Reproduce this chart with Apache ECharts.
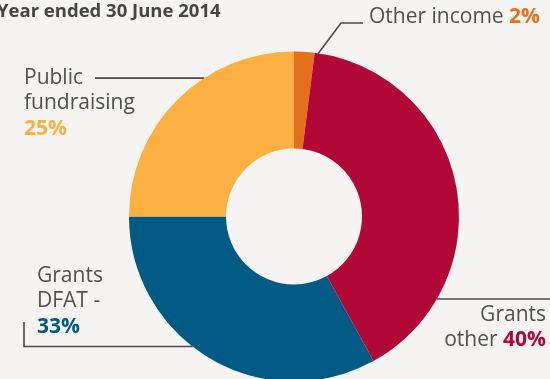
<!DOCTYPE html>
<html>
<head>
<meta charset="utf-8">
<style>
  html, body { margin: 0; padding: 0; background: #f5f4f2; }
  #chart { width: 550px; height: 379px; }
</style>
<script src="https://cdn.jsdelivr.net/npm/echarts@6/dist/echarts.min.js"></script>
</head>
<body>
<div id="chart"></div>
<script>
// Income sources, year ended 30 June 2014 (percent of total)
const categories = ['Other income', 'Grants other', 'Grants DFAT', 'Public fundraising'];
const shares = [2, 40, 33, 25];
const labelNames = ['Other income', 'Grants\nother', 'Grants\nDFAT -', 'Public\nfundraising'];
const valueSeparators = [' ', ' ', '\n', '\n'];
const sliceColors = ['#e4701e', '#b10838', '#005a84', '#fbb042'];

const CX = 294, CY = 216.5, R_IN = 68, R_OUT = 165;
const FONT = '"Open Sans", sans-serif';
const TEXT_COLOR = '#505050';
const LINE_COLOR = '#4a4a4a';

// Where each leader line leaves the ring (degrees clockwise from 12 o'clock)
// and where its label sits.
const labelPlacement = [
  { angle: 8.5, x: 369, y: 17, align: 'left', vAlign: 'middle',
    path: e => [e, [341, 23], [363, 23]] },
  { angle: 120, x: 546, y: 302, align: 'right', vAlign: 'top',
    path: e => [e, [e[0] + 1, e[1]], [550, e[1]]] },
  { angle: 218, x: 37, y: 263, align: 'left', vAlign: 'top',
    path: e => [e, [24, e[1]], [24, 322]] },
  { angle: 327, x: 24, y: 65, align: 'left', vAlign: 'top',
    path: e => [e, [e[0] - 1, e[1]], [95, e[1]]] }
];

const rich = { name: { fontFamily: FONT, fontSize: 21, lineHeight: 25.5, color: TEXT_COLOR } };
sliceColors.forEach((c, i) => {
  rich['v' + i] = { fontFamily: FONT, fontSize: 21, lineHeight: 25.5, fontWeight: 'bold', color: c };
});

const chart = echarts.init(document.getElementById('chart'), null, { renderer: 'canvas' });

chart.setOption({
  backgroundColor: '#f5f4f2',
  animation: false,
  title: {
    text: 'Year ended 30 June 2014',
    left: -3,
    top: 2,
    padding: 0,
    textStyle: { fontFamily: FONT, fontSize: 18.5, fontWeight: 'bold', color: '#454545' }
  },
  series: [{
    type: 'pie',
    center: [CX, CY],
    radius: [R_IN, R_OUT],
    startAngle: 90,
    clockwise: true,
    avoidLabelOverlap: false,
    silent: true,
    itemStyle: { borderWidth: 0 },
    emphasis: { disabled: true },
    data: categories.map((name, i) => ({
      name: name,
      value: shares[i],
      itemStyle: { color: sliceColors[i] }
    })),
    label: {
      show: true,
      position: 'outside',
      formatter: p => labelNames[p.dataIndex].split('\n').map(s => '{name|' + s + '}').join('\n')
        + (valueSeparators[p.dataIndex] === '\n' ? '\n' : '{name| }')
        + '{v' + p.dataIndex + '|' + p.value + '%}',
      rich: rich
    },
    labelLine: {
      show: true,
      smooth: false,
      lineStyle: { color: LINE_COLOR, width: 1.6 }
    },
    labelLayout: function (p) {
      const L = labelPlacement[p.dataIndex];
      const a = L.angle * Math.PI / 180;
      const edge = [CX + R_OUT * Math.sin(a), CY - R_OUT * Math.cos(a)];
      return {
        x: L.x,
        y: L.y,
        align: L.align,
        verticalAlign: L.vAlign,
        labelLinePoints: L.path(edge)
      };
    }
  }]
});
</script>
</body>
</html>
